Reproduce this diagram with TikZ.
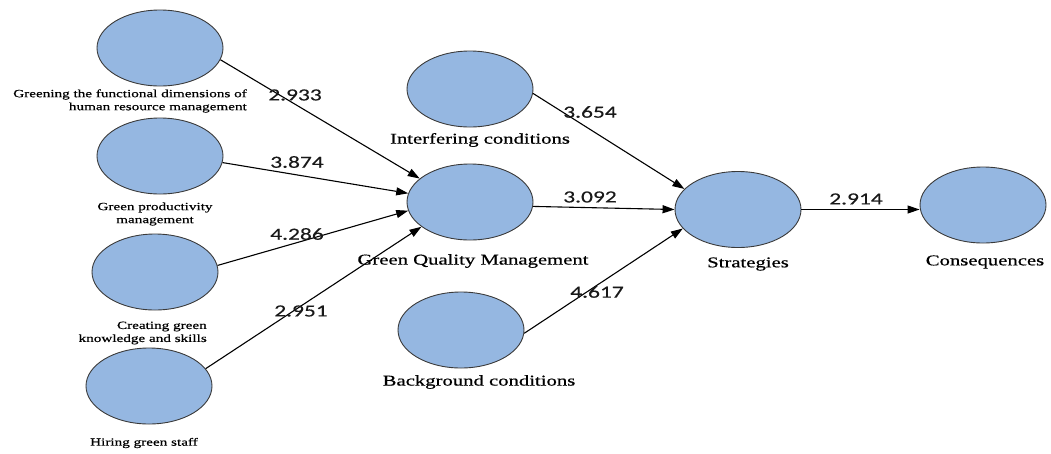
\documentclass[tikz,border=0pt]{standalone}
\usepackage{fontspec}
\setmainfont{Liberation Serif}[FakeStretch=1.38,FakeBold=0.6]
\newfontfamily\numfont{Carlito}[FakeStretch=1.38,FakeBold=0.3]
\usetikzlibrary{shapes.geometric,arrows.meta}
\definecolor{ellfill}{HTML}{95B7E1}
\definecolor{ellline}{HTML}{3A3A3A}
\tikzset{
  latent/.style={ellipse,draw=ellline,line width=0.9pt,fill=ellfill,minimum width=126pt,minimum height=76pt,inner sep=0pt},
  smalllbl/.style={font=\fontsize{11}{13}\selectfont,inner sep=0pt,text=black},
  biglbl/.style={font=\fontsize{15}{18}\selectfont,inner sep=0pt,text=black},
  coef/.style={font=\numfont\fontsize{17}{20}\selectfont,inner sep=0pt,text=black!90},
  path/.style={draw=black,line width=1.1pt,-{Triangle[length=12pt,width=8pt]}}
}
\begin{document}
\begin{tikzpicture}[x=1pt,y=-1pt]
\useasboundingbox[fill=white] (0,0) rectangle (1051,453);
% latent variables
\node[latent] (e1) at (160,48) {};
\node[latent] (e2) at (160,156) {};
\node[latent] (e3) at (155,272) {};
\node[latent] (e4) at (149,386) {};
\node[latent] (int) at (470,89) {};
\node[latent] (gqm) at (470,202) {};
\node[latent] (bg) at (461,330) {};
\node[latent] (str) at (738,209.5) {};
\node[latent] (con) at (983,205) {};
% labels
\node[smalllbl,align=right,anchor=east] (l1) at (247,101) {Greening the functional dimensions of\\human resource management};
\node[smalllbl,align=center] (l2) at (155,214) {Green productivity\\management};
\node[smalllbl,align=right,anchor=east] (l3) at (207,333) {Creating green\\knowledge and skills};
\node[smalllbl] (l4) at (144,443) {Hiring green staff};
\node[biglbl] (lint) at (480,140) {Interfering conditions};
\node[biglbl] (lgqm) at (473,261) {Green Quality Management};
\node[biglbl] (lbg) at (479,382) {Background conditions};
\node[biglbl] (lstr) at (748,264) {Strategies};
\node[biglbl] (lcon) at (985,262) {Consequences};
% paths
\draw[path] (e1.-11) -- (gqm.155);
\draw[path] (e2.-6) -- (gqm.172);
\draw[path] (e3.6) -- (gqm.-172);
\draw[path] (e4.17) -- (gqm.-153);
\draw[path] (int.-4) -- (str.159);
\draw[path] (gqm.-4) -- (str.180);
\draw[path] (bg.-3) -- (str.-161);
\draw[path] (str.east) -- (str.east -| con.west);
% coefficients
\node[coef] (c1) at (295,95) {2.933};
\node[coef] (c2) at (297,162) {3.874};
\node[coef] (c3) at (297,234) {4.286};
\node[coef] (c4) at (301,311) {2.951};
\node[coef] (c5) at (590,112) {3.654};
\node[coef] (c6) at (590,197) {3.092};
\node[coef] (c7) at (597,292) {4.617};
\node[coef] (c8) at (856,199) {2.914};
\end{tikzpicture}
\end{document}
